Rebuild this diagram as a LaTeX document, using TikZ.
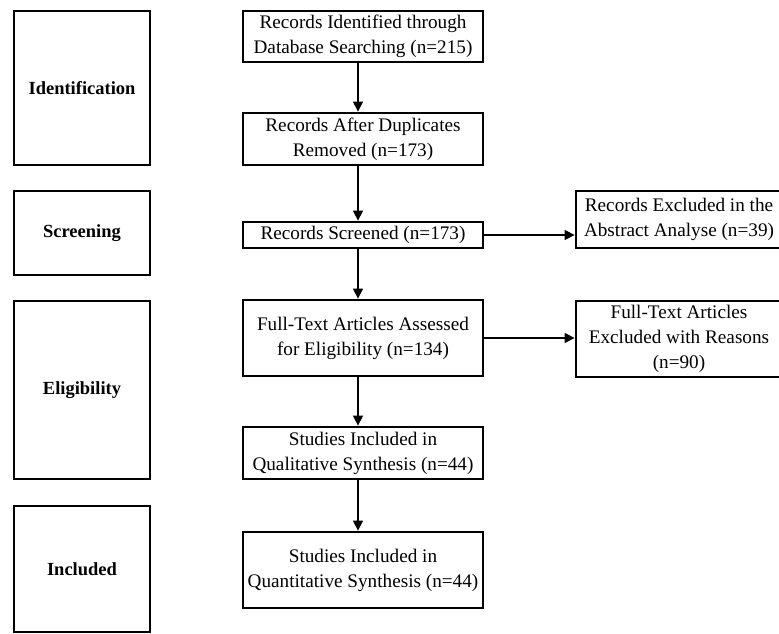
\documentclass[tikz,border=0pt]{standalone}
\usepackage{fontspec}
\setmainfont{Liberation Serif}
\usetikzlibrary{arrows.meta,positioning}
\tikzset{
  stagebox/.style={draw=black, line width=2.8pt, minimum width=136pt, inner sep=0pt, font=\fontsize{18.5}{24}\selectfont\bfseries, align=center},
  flowbox/.style={draw=black, line width=2.8pt, minimum width=240pt, inner sep=0pt, font=\fontsize{19.2}{25}\selectfont, align=center},
  sidebox/.style={draw=black, line width=2.8pt, minimum width=206pt, inner sep=0pt, font=\fontsize{19.2}{25}\selectfont, align=center},
  arr/.style={line width=1.4pt, -{Triangle[length=10pt,width=10pt]}}
}
\begin{document}
\begin{tikzpicture}[x=1pt,y=-1pt]
\useasboundingbox (0,0) rectangle (779,634);
\clip (0,0) rectangle (779,634);
% stage boxes
\node[stagebox, minimum height=154pt] (s1) at (82,88) {Identification};
\node[stagebox, minimum height=84pt] (s2) at (82,233) {Screening};
\node[stagebox, minimum height=178pt] (s3) at (82,390) {Eligibility};
\node[stagebox, minimum height=126pt] (s4) at (82,569) {Included};
% flow boxes
\node[flowbox, minimum height=51pt] (b1) at (363,36.5) {Records Identified through\\Database Searching (n=215)};
\node[flowbox, minimum height=52pt] (b2) at (363,139) {Records After Duplicates\\Removed (n=173)};
\node[flowbox, minimum height=26pt] (b3) at (363,235) {Records Screened (n=173)};
\node[flowbox, minimum height=76pt] (b4) at (363,338) {Full-Text Articles Assessed\\for Eligibility (n=134)};
\node[flowbox, minimum height=52pt] (b5) at (363,453) {Studies Included in\\Qualitative Synthesis (n=44)};
\node[flowbox, minimum height=76pt] (b6) at (363,570) {Studies Included in\\Quantitative Synthesis (n=44)};
% side boxes
\node[sidebox, minimum height=57pt] (r1) at (679,219.5) {Records Excluded in the\\Abstract Analyse (n=39)};
\node[sidebox, minimum height=76pt] (r2) at (679,339) {Full-Text Articles\\Excluded with Reasons\\(n=90)};
% arrows
\draw[arr] ([xshift=-5pt]b1.south) -- ([xshift=-5pt]b2.north);
\draw[arr] ([xshift=-5pt]b2.south) -- ([xshift=-5pt]b3.north);
\draw[arr] ([xshift=-5pt]b3.south) -- ([xshift=-5pt]b4.north);
\draw[arr] ([xshift=-5pt]b4.south) -- ([xshift=-5pt]b5.north);
\draw[arr] ([xshift=-5pt]b5.south) -- ([xshift=-5pt]b6.north);
\draw[arr] (b3.east) -- (b3.east -| r1.west);
\draw[arr] (b4.east) -- (b4.east -| r2.west);
\end{tikzpicture}
\end{document}
